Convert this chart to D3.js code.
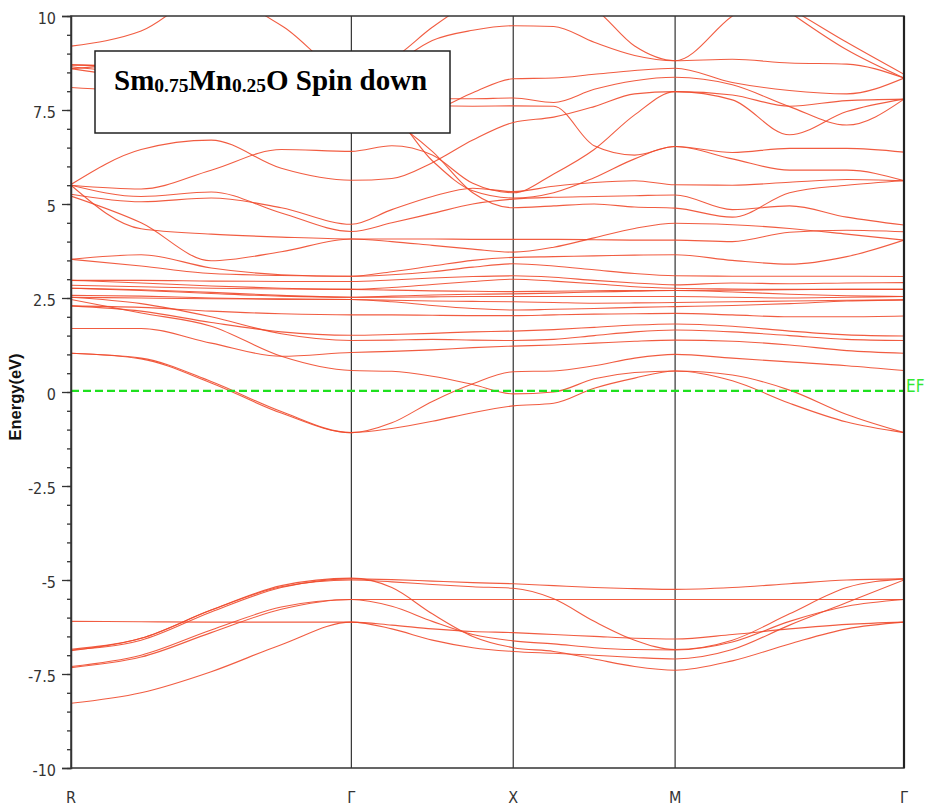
<!DOCTYPE html>
<html>
<head>
<meta charset="utf-8">
<script src="https://cdn.jsdelivr.net/npm/d3@7"></script>
<style>
  body { margin: 0; background: #fff; }
  .tick text { font-family: "Liberation Sans Narrow", "Arial Narrow", "DejaVu Sans Condensed", sans-serif; }
</style>
</head>
<body>
<svg id="chart" width="926" height="807"></svg>
<script>
const WIDTH = 926;
const HEIGHT = 807;

// k-path sample positions (R -> Γ -> X -> M -> Γ)
const kPath = [0, 0.2165, 0.433, 0.6495, 0.866, 0.991, 1.116, 1.241, 1.366,
               1.491, 1.616, 1.741, 1.866, 2.0428, 2.2195, 2.3963, 2.573];
const kNodes = [0, 0.866, 1.366, 1.866, 2.573];
const kLabels = ["R", "Γ", "X", "M", "Γ"];

const energyTicks = [-10, -7.5, -5, -2.5, 0, 2.5, 5, 7.5, 10];
const fermiLevel = 0.03;

// valence bands (eV)
const bandsValence = [
  [-6.10,-6.11,-6.12,-6.12,-6.12, -6.20,-6.30,-6.37,-6.40, -6.45,-6.50,-6.55,-6.57, -6.45,-6.30,-6.18,-6.12],
  [-6.86,-6.60,-5.85,-5.20,-4.97, -4.99,-5.03,-5.07,-5.10, -5.15,-5.20,-5.23,-5.25, -5.20,-5.10,-5.00,-4.97],
  [-6.88,-6.55,-5.80,-5.18,-5.00, -5.05,-5.12,-5.18,-5.22, -5.50,-6.10,-6.60,-6.85, -6.60,-5.90,-5.20,-4.97],
  [-7.30,-7.00,-6.33,-5.72,-5.52, -5.52,-5.52,-5.52,-5.52, -5.52,-5.52,-5.52,-5.52, -5.52,-5.52,-5.52,-5.52],
  [-7.33,-7.05,-6.40,-5.78,-5.52, -5.70,-6.10,-6.45,-6.62, -6.70,-6.80,-6.85,-6.86, -6.65,-6.10,-5.70,-5.52],
  [-8.28,-8.00,-7.44,-6.72,-6.12, -6.30,-6.60,-6.80,-6.90, -6.95,-7.00,-7.06,-7.10, -6.85,-6.20,-5.60,-5.00],
  [-6.84,-6.55,-5.80,-5.15,-4.95, -5.20,-5.90,-6.50,-6.80, -6.90,-7.10,-7.30,-7.40, -7.15,-6.70,-6.30,-6.12]
];

// lower conduction bands, around the Fermi level (eV)
const bandsLow = [
  [1.03,0.88,0.24,-0.56,-1.08, -0.97,-0.78,-0.55,-0.37, -0.30,0.10,0.37,0.56, 0.30,-0.30,-0.80,-1.08],
  [1.03,0.90,0.28,-0.52,-1.08, -0.82,-0.25,0.22,0.54, 0.56,0.70,0.90,1.00, 0.90,0.80,0.70,0.57],
  [2.46,2.10,1.75,0.95,0.57, 0.55,0.42,0.20,-0.05, 0.00,0.35,0.52,0.56, 0.45,0.05,-0.60,-1.08],
  [1.69,1.69,1.30,0.95,1.05, 1.08,1.12,1.18,1.22, 1.25,1.30,1.35,1.38, 1.35,1.25,1.10,1.03],
  [2.52,2.35,2.00,1.55,1.37, 1.38,1.40,1.38,1.37, 1.40,1.50,1.60,1.65, 1.60,1.50,1.40,1.37],
  [2.29,2.15,1.85,1.60,1.51, 1.53,1.56,1.60,1.62, 1.66,1.72,1.78,1.81, 1.75,1.62,1.52,1.49],
  [2.29,2.25,2.15,2.08,2.05, 2.05,2.04,2.03,2.03, 2.05,2.07,2.08,2.09, 2.05,2.00,2.00,2.02],
  [2.52,2.50,2.48,2.47,2.46, 2.40,2.30,2.22,2.18, 2.20,2.22,2.25,2.27, 2.30,2.35,2.42,2.45],
  [2.57,2.55,2.50,2.47,2.46, 2.44,2.42,2.41,2.40, 2.38,2.36,2.37,2.38, 2.40,2.42,2.44,2.45],
  [2.76,2.70,2.62,2.55,2.52, 2.52,2.53,2.54,2.54, 2.54,2.54,2.54,2.54, 2.52,2.50,2.52,2.54],
  [2.76,2.72,2.65,2.57,2.52, 2.55,2.58,2.60,2.61, 2.63,2.66,2.68,2.70, 2.66,2.60,2.56,2.54],
  [2.84,2.80,2.76,2.74,2.73, 2.71,2.69,2.68,2.67, 2.68,2.69,2.70,2.70, 2.71,2.72,2.73,2.73],
  [2.97,2.90,2.82,2.76,2.73, 2.78,2.86,2.94,3.00, 2.95,2.88,2.80,2.76, 2.74,2.73,2.73,2.73],
  [2.97,2.97,2.95,2.94,2.94, 2.98,3.03,3.07,3.09, 3.05,2.97,2.90,2.85, 2.90,2.88,2.90,2.91],
  [3.53,3.65,3.30,3.12,3.08, 3.12,3.20,3.32,3.41, 3.35,3.25,3.15,3.09, 3.08,3.08,3.08,3.07],
  [3.53,3.35,3.15,3.10,3.08, 3.20,3.35,3.50,3.58, 3.60,3.62,3.64,3.65, 3.50,3.40,3.60,4.04]
];

// upper conduction bands (eV)
const bandsUpper = [
  [5.52,6.45,6.70,5.95,5.63, 5.68,6.10,6.70,7.17, 7.31,7.59,7.93,7.99, 7.77,6.84,7.46,7.79],
  [5.50,5.40,5.90,6.45,6.40, 6.55,6.30,5.55,5.30, 5.80,6.45,7.37,7.99, 7.90,7.60,7.75,7.79],
  [5.26,5.06,5.16,4.90,4.46, 4.85,5.20,5.42,5.33, 5.47,5.57,5.62,5.51, 5.50,5.58,5.65,5.62],
  [5.50,5.20,5.32,4.76,4.27, 4.50,4.75,5.00,5.13, 5.18,5.20,5.22,5.24, 4.85,4.95,4.65,4.44],
  [5.50,4.34,4.20,4.12,4.07, 4.07,4.07,4.06,4.06, 4.06,4.05,4.04,4.04, 4.00,4.25,4.30,4.26],
  [5.21,4.50,3.49,3.73,4.07, 4.00,3.90,3.80,3.72, 3.85,4.10,4.35,4.49, 4.45,4.35,4.20,4.04],
  [8.10,7.95,7.60,7.40,7.45, 7.30,6.15,5.35,5.16, 5.30,5.70,6.20,6.53, 6.20,5.90,5.90,5.62],
  [8.60,8.30,7.90,7.70,7.60, 7.20,6.40,5.30,4.90, 4.95,5.00,4.92,4.89, 4.65,5.30,5.50,5.62],
  [8.65,8.40,7.90,7.50,7.40, 7.40,7.50,7.96,8.33, 8.35,8.45,8.55,8.61, 8.23,8.02,7.93,8.35],
  [8.70,8.60,8.20,7.90,7.79, 7.80,7.80,7.80,7.82, 7.70,8.05,8.28,8.37, 8.17,7.59,7.10,7.79],
  [8.70,8.65,8.30,7.95,7.79, 7.70,7.62,7.60,7.61, 7.60,6.55,6.30,6.53, 6.37,6.48,6.48,6.38],
  [8.60,8.70,8.60,8.45,8.35, 8.70,9.35,9.62,9.74, 9.72,9.30,8.95,8.81, 8.85,8.75,8.72,8.35],
  [9.20,9.60,10.6,9.75,8.45, 8.85,9.70,10.4,10.8, 10.6,10.2,9.20,8.81, 10.0,10.9,11.4,11.5],
  [12.0,12.0,12.0,12.0,12.0, 12.0,12.0,12.0,12.0, 12.0,12.0,11.9,11.6, 11.0,10.2,9.30,8.45],
  [12.2,12.2,12.2,12.2,12.2, 12.2,12.2,12.2,12.2, 12.2,12.1,12.0,11.8, 11.2,10.1,9.10,8.35]
];

const plot = { left: 71, right: 904, top: 16, bottom: 768 };
const axisFont = '"Liberation Sans Narrow", "Arial Narrow", "DejaVu Sans Condensed", sans-serif';

const svg = d3.select("#chart");
svg.append("rect").attr("width", WIDTH).attr("height", HEIGHT).attr("fill", "#fff");

const x = d3.scaleLinear().domain([0, kNodes[kNodes.length - 1]]).range([plot.left, plot.right]);
const y = d3.scaleLinear().domain([-10, 10]).range([plot.bottom, plot.top]);

svg.append("clipPath").attr("id", "clip")
  .append("rect")
  .attr("x", plot.left).attr("y", plot.top)
  .attr("width", plot.right - plot.left).attr("height", plot.bottom - plot.top);

// high-symmetry vertical lines
svg.append("g").selectAll("line")
  .data(kNodes.slice(1, -1))
  .join("line")
  .attr("x1", d => x(d)).attr("x2", d => x(d))
  .attr("y1", plot.top).attr("y2", plot.bottom)
  .attr("stroke", "#333").attr("stroke-width", 1.2);

// bands
const line = d3.line()
  .x((d, i) => x(kPath[i]))
  .y(d => y(d))
  .curve(d3.curveMonotoneX);

svg.append("g")
  .attr("clip-path", "url(#clip)")
  .selectAll("path")
  .data(bandsValence.concat(bandsLow, bandsUpper))
  .join("path")
  .attr("d", line)
  .attr("fill", "none")
  .attr("stroke", "#ef4a2c")
  .attr("stroke-width", 1.1)
  .attr("stroke-opacity", 0.9);

// Fermi level
svg.append("line")
  .attr("x1", plot.left).attr("x2", plot.right)
  .attr("y1", y(fermiLevel)).attr("y2", y(fermiLevel))
  .attr("stroke", "#1fe01f").attr("stroke-width", 2.2)
  .attr("stroke-dasharray", "8,4");

svg.append("text")
  .attr("x", plot.right + 2).attr("y", y(fermiLevel) + 1)
  .attr("font-family", axisFont).attr("font-size", 17)
  .attr("fill", "#33e833")
  .text("EF");

// frame
svg.append("rect")
  .attr("x", plot.left).attr("y", plot.top)
  .attr("width", plot.right - plot.left).attr("height", plot.bottom - plot.top)
  .attr("fill", "none").attr("stroke", "#333").attr("stroke-width", 1.5);
svg.append("line")
  .attr("x1", plot.right).attr("x2", plot.right)
  .attr("y1", plot.top).attr("y2", plot.bottom)
  .attr("stroke", "#222").attr("stroke-width", 2.2);

// y axis: minor ticks every 0.5 eV, major every 2.5 eV
const minorAxis = d3.axisLeft(y)
  .tickValues(d3.range(-10, 10.001, 0.5))
  .tickSize(4).tickFormat("");
svg.append("g").attr("transform", `translate(${plot.left},0)`)
  .call(minorAxis)
  .call(g => g.select(".domain").remove())
  .call(g => g.selectAll("line").attr("stroke", "#333").attr("stroke-width", 1.3));

const majorAxis = d3.axisLeft(y)
  .tickValues(energyTicks)
  .tickSize(9).tickPadding(6)
  .tickFormat(d => d);
svg.append("g").attr("transform", `translate(${plot.left},0)`)
  .call(majorAxis)
  .call(g => g.select(".domain").attr("stroke", "#333").attr("stroke-width", 1.5))
  .call(g => g.selectAll("line").attr("stroke", "#333").attr("stroke-width", 1.3))
  .call(g => g.selectAll("text").attr("font-size", 16).attr("fill", "#333").attr("dy", "0.45em"));

// x labels
svg.append("g").selectAll("text")
  .data(kNodes)
  .join("text")
  .attr("x", d => x(d)).attr("y", 803)
  .attr("text-anchor", "middle")
  .attr("font-family", axisFont).attr("font-size", 16)
  .attr("fill", "#333")
  .text((d, i) => kLabels[i]);

// y title
svg.append("text")
  .attr("transform", "translate(21,397) rotate(-90)")
  .attr("text-anchor", "middle")
  .attr("font-family", "Liberation Sans, Arial, sans-serif")
  .attr("font-weight", "bold").attr("font-size", 16.5)
  .attr("fill", "#111")
  .text("Energy(eV)");

// title box
svg.append("rect")
  .attr("x", 95).attr("y", 51).attr("width", 355).attr("height", 82)
  .attr("fill", "#fff").attr("stroke", "#222").attr("stroke-width", 1.5);

const title = svg.append("text")
  .attr("x", 114).attr("y", 90)
  .attr("font-family", '"Liberation Serif", "Times New Roman", serif')
  .attr("font-weight", "bold").attr("font-size", 29)
  .attr("fill", "#000");
title.append("tspan").text("Sm");
title.append("tspan").attr("font-size", 19.5).attr("dy", 2).text("0.75");
title.append("tspan").attr("dy", -2).text("Mn");
title.append("tspan").attr("font-size", 19.5).attr("dy", 2).text("0.25");
title.append("tspan").attr("dy", -2).text("O Spin down");
</script>
</body>
</html>
